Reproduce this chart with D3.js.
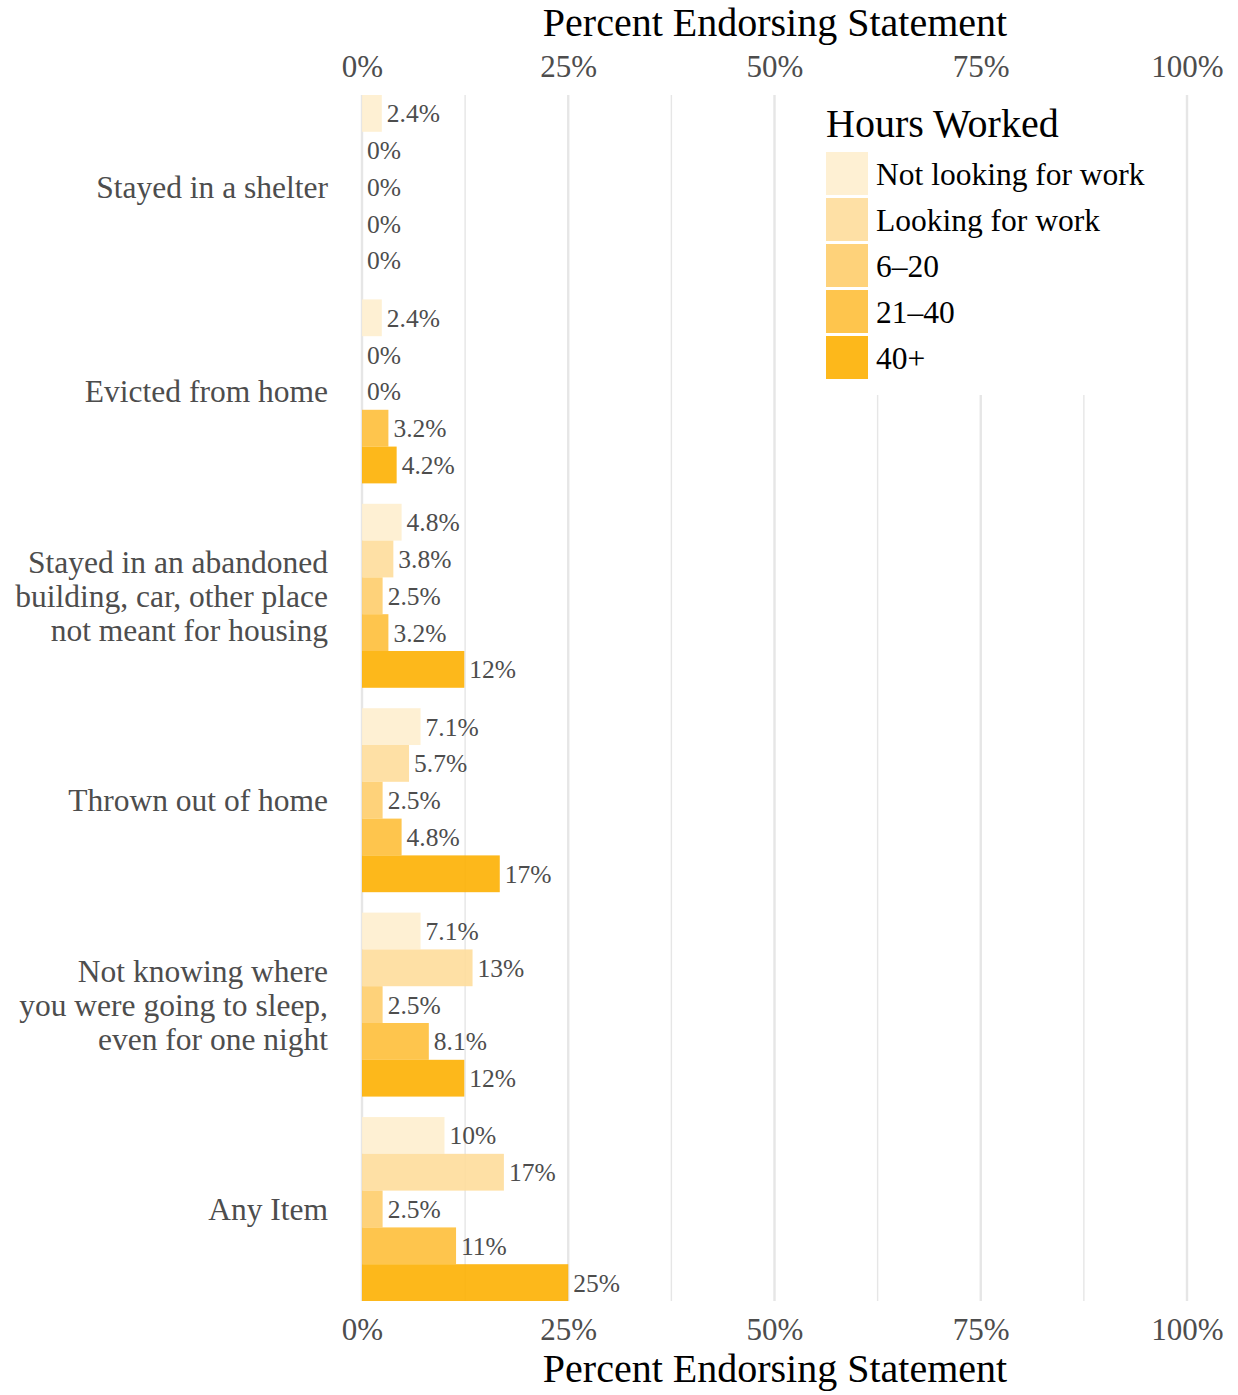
<!DOCTYPE html>
<html>
<head>
<meta charset="utf-8">
<script src="https://cdn.jsdelivr.net/npm/d3@7"></script>
<style>
  html, body { margin: 0; padding: 0; background: #fff; }
  svg { display: block; font-family: "Liberation Serif", "Times New Roman", Times, serif; }
</style>
</head>
<body>
<svg id="chart" width="1238" height="1395"></svg>
<script>
// ---- data ----
const categories = [
  ["Stayed in a shelter"],
  ["Evicted from home"],
  ["Stayed in an abandoned", "building, car, other place", "not meant for housing"],
  ["Thrown out of home"],
  ["Not knowing where", "you were going to sleep,", "even for one night"],
  ["Any Item"]
];
const seriesNames = ["Not looking for work", "Looking for work", "6\u201320", "21\u201340", "40+"];
const seriesColors = ["#FEEECE", "#FEDD9B", "#FECD6B", "#FEBF3A", "#FDB002"];
// values in percent, one array per series, aligned with categories
const notLooking = [2.4, 2.4, 4.8, 7.1, 7.1, 10];
const looking    = [0,   0,   3.8, 5.7, 13.4, 17.2];
const h6to20     = [0,   0,   2.5, 2.5, 2.5, 2.5];
const h21to40    = [0,   3.2, 3.2, 4.8, 8.1, 11.4];
const h40plus    = [0,   4.2, 12.4, 16.7, 12.4, 25];
const seriesValues = [notLooking, looking, h6to20, h21to40, h40plus];
const tickValues = [0, 25, 50, 75, 100];
const minorTicks = [12.5, 37.5, 62.5, 87.5];
const axisTitle = "Percent Endorsing Statement";
const legendTitle = "Hours Worked";

// ---- layout ----
const svg = d3.select("#chart");
const x = d3.scaleLinear().domain([0, 100]).range([362, 1187]);
const y0 = d3.scaleBand().domain(d3.range(categories.length)).range([95, 1301]).paddingInner(0.1).paddingOuter(0);
const y1 = d3.scaleBand().domain(d3.range(seriesNames.length)).range([0, y0.bandwidth()]);
const fmt = d3.format(".2~r");

// gridlines
const grid = svg.append("g");
grid.selectAll("line.minor").data(minorTicks).join("line")
  .attr("x1", d => x(d)).attr("x2", d => x(d))
  .attr("y1", 95).attr("y2", 1301)
  .attr("stroke", "#e6e6e6").attr("stroke-width", 1.4);
grid.selectAll("line.major").data(tickValues).join("line")
  .attr("x1", d => x(d)).attr("x2", d => x(d))
  .attr("y1", 95).attr("y2", 1301)
  .attr("stroke", "#e6e6e6").attr("stroke-width", 2.4);

// bars
const rows = [];
categories.forEach((c, ci) => seriesValues.forEach((vals, si) => rows.push({ci, si, v: vals[ci]})));
const barG = svg.append("g");
barG.selectAll("rect").data(rows).join("rect")
  .attr("x", x(0))
  .attr("y", d => y0(d.ci) + y1(d.si))
  .attr("width", d => x(d.v) - x(0))
  .attr("height", y1.bandwidth())
  .attr("fill", d => seriesColors[d.si])
  .attr("fill-opacity", 0.9);

// value labels
barG.selectAll("text").data(rows).join("text")
  .attr("x", d => x(d.v) + 5)
  .attr("y", d => y0(d.ci) + y1(d.si) + y1.bandwidth() / 2)
  .attr("dy", "0.35em")
  .attr("font-size", 25.5)
  .attr("fill", "#4d4d4d")
  .text(d => fmt(d.v) + "%");

// category labels
const catG = svg.append("g");
categories.forEach((lines, ci) => {
  const cy = y0(ci) + y0.bandwidth() / 2;
  const lh = 34;
  const t = catG.append("text")
    .attr("text-anchor", "end")
    .attr("font-size", 31.5)
    .attr("fill", "#4d4d4d");
  lines.forEach((ln, i) => {
    t.append("tspan")
      .attr("x", 328)
      .attr("y", cy + (i - (lines.length - 1) / 2) * lh)
      .attr("dy", "0.35em")
      .text(ln);
  });
});

// axes
const tickFmt = d => d + "%";
const topAxis = svg.append("g").attr("transform", "translate(0,86)")
  .call(d3.axisTop(x).tickValues(tickValues).tickFormat(tickFmt).tickSize(0).tickPadding(0));
const botAxis = svg.append("g").attr("transform", "translate(0,1318)")
  .call(d3.axisBottom(x).tickValues(tickValues).tickFormat(tickFmt).tickSize(0).tickPadding(0));
[topAxis, botAxis].forEach(a => {
  a.select(".domain").remove();
  a.selectAll("text").attr("font-size", 31).attr("fill", "#4d4d4d")
    .attr("font-family", "Liberation Serif, Times New Roman, serif");
});
topAxis.selectAll("text").attr("dy", "-0.3em");
botAxis.selectAll("text").attr("dy", "0.71em");

// axis titles
svg.append("text").attr("x", 775).attr("y", 36).attr("text-anchor", "middle")
  .attr("font-size", 40).attr("fill", "#000").text(axisTitle);
svg.append("text").attr("x", 775).attr("y", 1382).attr("text-anchor", "middle")
  .attr("font-size", 40).attr("fill", "#000").text(axisTitle);

// legend
const lg = svg.append("g");
lg.append("rect").attr("x", 808).attr("y", 88).attr("width", 368).attr("height", 307).attr("fill", "#fff");
lg.append("text").attr("x", 826).attr("y", 137).attr("font-size", 40).attr("fill", "#000").text(legendTitle);
const keyY = d3.scaleBand().domain(d3.range(seriesNames.length)).range([151, 381]);
seriesNames.forEach((nm, i) => {
  lg.append("rect").attr("x", 826).attr("y", keyY(i) + 1).attr("width", 42).attr("height", keyY.bandwidth() - 3)
    .attr("fill", seriesColors[i]).attr("fill-opacity", 0.9);
  lg.append("text").attr("x", 876).attr("y", keyY(i) + keyY.bandwidth() / 2).attr("dy", "0.35em")
    .attr("font-size", 31.5).attr("fill", "#000").text(nm);
});
</script>
</body>
</html>
